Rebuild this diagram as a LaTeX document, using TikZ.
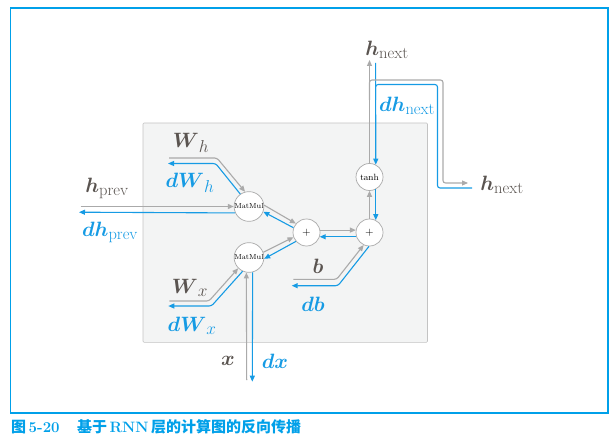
\documentclass[tikz,border=0pt]{standalone}
\usepackage{amsmath,amssymb}
\usepackage{fontspec}
\newfontfamily\cjk{Noto Sans CJK SC}
\usetikzlibrary{arrows.meta}
\newcommand{\lsub}[1]{\mbox{\fontsize{16.5}{17}\selectfont#1}}
\definecolor{fwdgray}{RGB}{170,170,170}
\definecolor{bwdblue}{RGB}{22,155,228}
\definecolor{lblgray}{RGB}{90,84,80}
\definecolor{framecyan}{RGB}{0,160,233}
\definecolor{boxgray}{RGB}{243,244,244}

\begin{document}
\begin{tikzpicture}[x=1pt,y=-1pt,
  fwd/.style={draw=fwdgray, line width=1.1pt, -{Triangle[length=6pt,width=5pt]}, rounded corners=2.5pt},
  bwd/.style={draw=bwdblue, line width=1.1pt, -{Triangle[length=6pt,width=5pt]}, rounded corners=2.5pt},
  op/.style={circle, draw=fwdgray, fill=white, minimum size=27pt, inner sep=0pt, line width=0.7pt},
  lbl/.style={text=lblgray, inner sep=0pt, font=\fontsize{20}{24}\selectfont},
  dlbl/.style={text=bwdblue, inner sep=0pt, font=\fontsize{20}{24}\selectfont}]
\useasboundingbox (0,0) rectangle (613,441);
\draw[framecyan, line width=1.3pt] (10.5,8) rectangle (608,413);
\draw[draw=fwdgray!70, fill=boxgray, line width=0.6pt, rounded corners=1pt] (143,123) rectangle (427.5,342.3);

\node[op, font=\fontsize{7.3}{8}\selectfont] (mt) at (249,206.5){MatMul};
\node[op, font=\fontsize{7.3}{8}\selectfont] (mb) at (249,257.5){MatMul};
\node[op, font=\fontsize{11}{12}\selectfont] (p1) at (306.5,232.5){$+$};
\node[op, font=\fontsize{11}{12}\selectfont] (p2) at (369.5,232.5){$+$};
\node[op, font=\fontsize{9}{10}\selectfont] (t) at (369.5,177){tanh};

\coordinate (hprev) at (80.5,206.5);
\coordinate (dhprev) at (79,212.2);
\coordinate (wh) at (169,158);
\coordinate (whbend) at (217,158);
\coordinate (dwh) at (168,163.5);
\coordinate (dwhbend) at (215.7,163.5);
\coordinate (wx) at (169.3,301);
\coordinate (wxbend) at (209,301);
\coordinate (dwx) at (168.3,306);
\coordinate (dwxbend) at (211.5,306);
\coordinate (b) at (293.3,279.3);
\coordinate (bbend) at (336.7,279.3);
\coordinate (db) at (291.7,285.7);
\coordinate (dbbend) at (338,285.7);
\coordinate (x) at (246.7,380);
\coordinate (dx) at (252.3,381.7);
\coordinate (hnext) at (369.5,60);
\coordinate (dhnext) at (375.6,63);
\coordinate (hsplit) at (369.5,100);
\coordinate (hcorner) at (443,80);
\coordinate (hnextr) at (468,183);
\coordinate (dhjoin) at (375.6,100);
\coordinate (dhcorner) at (437.5,84.5);
\coordinate (dhnextr) at (472,188);

\foreach \from/\to in
{hprev/mt.west,mt.5/p1.140,mb.20/p1.200,p1.10/p2.170,p2.north/t.south,t.north/hnext,x/mb.-100}
\draw[fwd] (\from) -- (\to);
\foreach \from/\to in
{mt.205/dhprev,p1.160/mt.-20,p1.220/mb.-5,p2.-162/p1.-18,t.-63/p2.63,dhnext/t.63,mb.-76/dx}
\draw[bwd] (\from) -- (\to);

\draw[fwd] (wh) -- (whbend) -- (mt.105);
\draw[bwd] (mt.125) -- (dwhbend) -- (dwh);
\draw[fwd] (wx) -- (wxbend) -- (mb.225);
\draw[bwd] (mb.245) -- (dwxbend) -- (dwx);
\draw[fwd] (b) -- (bbend) -- (p2.-115);
\draw[bwd] (p2.-92) -- (dbbend) -- (db);
\draw[fwd] (hsplit) |- (hcorner) |- (hnextr);
\draw[bwd, -] (dhnextr) -| (dhcorner) -| (dhjoin);

\node[lbl] (hprevl) at (107,188){$\boldsymbol{h}_{\lsub{prev}}$};
\node[dlbl] (dhprevl) at (110,232){$\boldsymbol{dh}_{\lsub{prev}}$};
\node[lbl] (whl) at (191,143){$\boldsymbol{W}_{\lsub{$h$}}$};
\node[dlbl] (dwhl) at (190,183){$\boldsymbol{dW}_{\lsub{$h$}}$};
\node[lbl] (wxl) at (190,288){$\boldsymbol{W}_{\lsub{$x$}}$};
\node[dlbl] (dwxl) at (192,326){$\boldsymbol{dW}_{\lsub{$x$}}$};
\node[lbl] (bl) at (318,266){$\boldsymbol{b}$};
\node[dlbl] (dbl) at (313,304){$\boldsymbol{db}$};
\node[lbl] (xl) at (228,361){$\boldsymbol{x}$};
\node[dlbl] (dxl) at (275,361){$\boldsymbol{dx}$};
\node[lbl] (hnextl) at (387,50){$\boldsymbol{h}_{\lsub{next}}$};
\node[dlbl] (dhnextl) at (407,106){$\boldsymbol{dh}_{\lsub{next}}$};
\node[lbl] (hnextrl) at (502,185){$\boldsymbol{h}_{\lsub{next}}$};

\node[anchor=west, text=framecyan, inner sep=0pt, font=\fontsize{15}{18}\selectfont\bfseries] (cap) at (11,427)
{{\cjk 图}\,5-20\quad\,{\cjk 基于}\,RNN\,{\cjk 层的计算图的反向传播}};
\end{tikzpicture}
\end{document}
